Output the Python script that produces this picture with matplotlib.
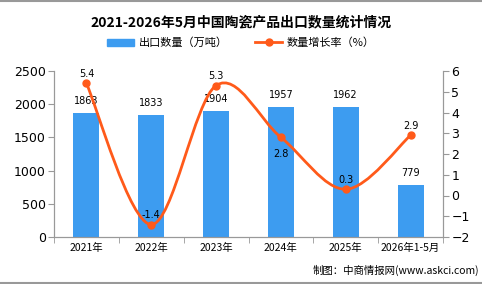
import numpy as np
import matplotlib.pyplot as plt
from matplotlib.path import Path
from matplotlib.patches import PathPatch
from matplotlib.lines import Line2D

plt.rcParams['font.family'] = ['Noto Sans CJK SC', 'DejaVu Sans']

# data
categories = ['2021年', '2022年', '2023年', '2024年', '2025年', '2026年1-5月']
export_qty = [1863, 1833, 1904, 1957, 1962, 779]
growth = [5.4, -1.4, 5.3, 2.8, 0.3, 2.9]

bar_color = '#3d9cf0'
line_color = '#ff5a1a'
axis_color = '#999999'

fig = plt.figure(figsize=(4.82, 2.84), dpi=100)
ax1 = fig.add_axes([54 / 482, 1 - 237 / 284, 389 / 482, 166 / 284])
x = np.arange(len(categories))

ax1.bar(x, export_qty, width=0.4, color=bar_color, zorder=2)
ax1.set_xlim(-0.5, len(categories) - 0.5)
ax1.set_ylim(0, 2500)
ax1.set_yticks(range(0, 2501, 500))
for xi, v in zip(x, export_qty):
    ax1.annotate(str(v), (xi, v), xytext=(0, 5), textcoords='offset points',
                 ha='center', va='bottom', fontsize=7, family='DejaVu Sans')

ax1.set_xticks(x)
ax1.set_xticklabels(categories, fontsize=7.5)
ax1.set_xticks(np.arange(-0.5, len(categories), 1), minor=True)
ax1.tick_params(axis='x', which='major', length=0, pad=4)
ax1.tick_params(axis='x', which='minor', length=4, color=axis_color)
ax1.tick_params(axis='y', labelsize=9, color=axis_color, length=4, pad=2)

ax2 = ax1.twinx()
ax2.set_ylim(-2, 6)
ax2.set_yticks(range(-2, 7))
ax2.tick_params(axis='y', labelsize=9, color=axis_color, length=4, pad=2)
for lab in ax1.get_yticklabels() + ax2.get_yticklabels():
    lab.set_family('DejaVu Sans')

for a in (ax1, ax2):
    a.spines['top'].set_visible(False)
    for s in ('left', 'right', 'bottom'):
        a.spines[s].set_color(axis_color)

# smooth line through the points (cardinal spline as bezier path)
pts = np.column_stack([x, growth]).astype(float)
verts = [tuple(pts[0])]
codes = [Path.MOVETO]
t = 0.5
for i in range(len(pts) - 1):
    p0 = pts[i - 1] if i > 0 else pts[i]
    p1, p2 = pts[i], pts[i + 1]
    p3 = pts[i + 2] if i + 2 < len(pts) else pts[i + 1]
    c1 = p1 + (p2 - p0) * t / 3
    c2 = p2 - (p3 - p1) * t / 3
    verts += [tuple(c1), tuple(c2), tuple(p2)]
    codes += [Path.CURVE4] * 3
ax2.add_patch(PathPatch(Path(verts, codes), fill=False, edgecolor=line_color,
                        lw=2, zorder=3))
ax2.plot(x, growth, 'o', color=line_color, markersize=5, zorder=4)

offsets = [7, 7, 7, -12, 7, 7]
for xi, v, off in zip(x, growth, offsets):
    ax2.annotate(f'{v}', (xi, v), xytext=(0, off), textcoords='offset points',
                 ha='center', va='center', fontsize=7, family='DejaVu Sans')

# legend
h1 = plt.Rectangle((0, 0), 1, 1, color=bar_color)
h2 = Line2D([], [], color=line_color, lw=2, marker='o', markersize=5)
fig.legend([h1, h2], ['出口数量（万吨）', '数量增长率（%）'], loc='center',
           bbox_to_anchor=(0.5, 1 - 43 / 284), ncol=2,
           frameon=False, fontsize=8, handlelength=2.4, columnspacing=2.5,
           handletextpad=0.4)

fig.text(0.5, 1 - 22 / 284, '2021-2026年5月中国陶瓷产品出口数量统计情况',
         ha='center', va='center', fontsize=10, fontweight='bold')
fig.text(479 / 482, 1 - 270 / 284, '制图：中商情报网(www.askci.com)',
         ha='right', va='center', fontsize=7.5)

fig.add_artist(Line2D([0, 1], [0.998, 0.998], color='#999999', lw=1.5))
fig.add_artist(Line2D([0, 1], [0.004, 0.004], color='#999999', lw=1.5))

fig.savefig('out.png', dpi=100)
